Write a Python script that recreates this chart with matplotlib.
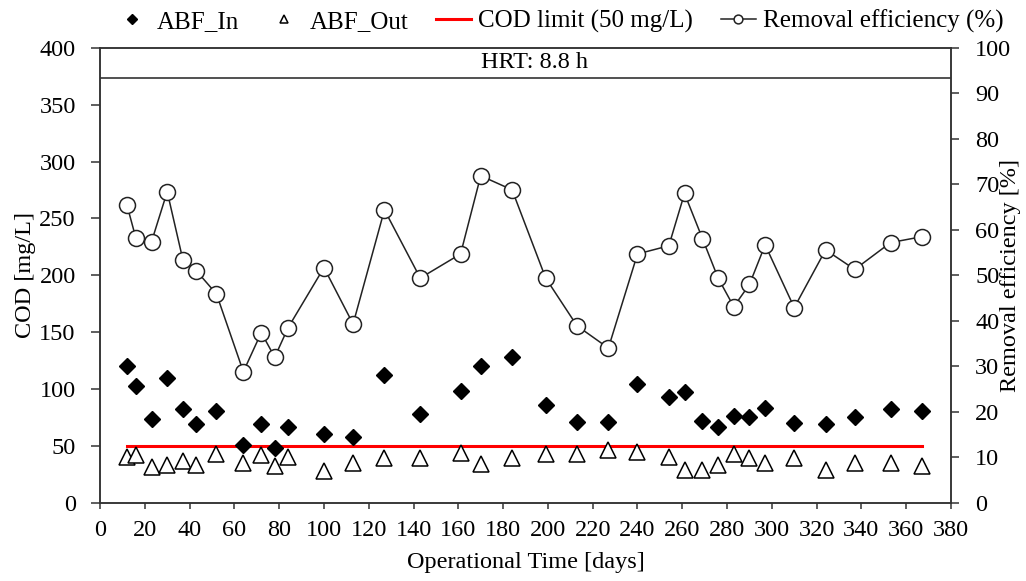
import numpy as np
import matplotlib
matplotlib.use('Agg')
import matplotlib.pyplot as plt

plt.rcParams['font.family'] = ['Liberation Serif', 'DejaVu Serif']
plt.rcParams['font.size'] = 17.5

# operational time (days)
days = [12, 16, 23, 30, 37, 43, 52, 64, 72, 78, 84, 100, 113, 127, 143, 161, 170,
        184, 199, 213, 227, 240, 254, 261, 269, 276, 283, 290, 297, 310, 324, 337,
        353, 367]

# influent / effluent COD (mg/L)
cod_in = [120, 103, 74, 110, 82, 69, 81, 51, 69, 48, 67, 60, 58, 112, 78, 98, 120,
          128, 86, 71, 71, 104, 93, 97, 72, 67, 76, 75, 83, 70, 69, 75, 82, 81]
cod_out = [40, 42, 31, 33, 37, 33, 43, 35, 42, 32, 40, 28, 35, 39, 39, 44, 34,
           39, 43, 43, 46, 45, 40, 29, 29, 33, 43, 39, 35, 39, 29, 35, 35, 32]

# removal efficiency (%)
removal = [65.5, 58.2, 57.4, 68.4, 53.4, 51.0, 45.9, 28.8, 37.4, 32.0, 38.5, 51.7,
           39.3, 64.4, 49.4, 54.7, 71.9, 68.8, 49.4, 38.9, 34.0, 54.7, 56.5, 68.0,
           58.1, 49.4, 43.1, 48.0, 56.7, 42.9, 55.6, 51.3, 57.2, 58.5]

cod_limit = 50
hrt_line = 373.5

fig = plt.figure(figsize=(10.26, 5.81), dpi=100)
ax = fig.add_axes([0.0975, 0.1348, 0.8294, 0.7826])
ax2 = ax.twinx()

# COD series
h_in, = ax.plot(days, cod_in, 'D', color='black', ms=8.5, mec='black', zorder=4,
                label='ABF_In')
h_out, = ax.plot(days, cod_out, '^', color='white', ms=11, mec='black', mew=1.1,
                 zorder=4, label='ABF_Out')
h_lim, = ax.plot([days[0], days[-1]], [cod_limit, cod_limit], color='#ff0000',
                 lw=2.2, zorder=3, label='COD limit (50 mg/L)')

# removal efficiency
h_rem, = ax2.plot(days, removal, '-o', color='#222222', lw=1.1, ms=11.5,
                  mfc='white', mec='#222222', mew=1.1, zorder=4,
                  label='Removal efficiency (%)')

ax.axhline(hrt_line, color='#222222', lw=1.1)
ax.text(194, 387, 'HRT: 8.8 h', ha='center', va='center')

ax.set_xlim(0, 380)
ax.set_ylim(0, 400)
ax2.set_ylim(0, 100)
ax.set_xticks(np.arange(0, 381, 20))
ax.set_yticks(np.arange(0, 401, 50))
ax2.set_yticks(np.arange(0, 101, 10))

ax.set_xlabel('Operational Time [days]', labelpad=8)
ax.set_ylabel('COD [mg/L]')
ax2.set_ylabel('Removal efficiency [%]')
ax.yaxis.set_label_coords(-0.075, 0.5)
ax2.yaxis.set_label_coords(1.058, 0.5)

for a in (ax, ax2):
    a.tick_params(direction='out', length=5.5, width=1.1, color='#333333', pad=12)
    for s in a.spines.values():
        s.set_color('#333333')
        s.set_linewidth(1.1)
ax.tick_params(axis='y', length=6.5, pad=11)
ax.tick_params(axis='x', length=4.5, pad=8)

fig.legend(handles=[h_in, h_out, h_lim, h_rem], loc='center',
           bbox_to_anchor=(0.545, 0.963), ncol=4, frameon=False, fontsize=18,
           markerscale=0.55, handlelength=1.4, handletextpad=0.3, columnspacing=1.1)

fig.savefig('out.png', dpi=100)
